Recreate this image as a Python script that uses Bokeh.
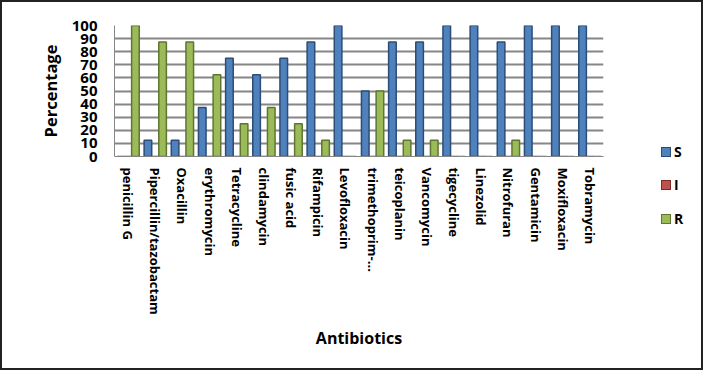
from bokeh.plotting import figure
from bokeh.layouts import row
from bokeh.models import ColumnDataSource, FactorRange, Range1d, FixedTicker, Div
from bokeh.transform import dodge
from bokeh.embed import file_html
from bokeh.resources import INLINE

antibiotics = ["penicillin G", "Pipercillin/tazobactam", "Oxacillin", "erythromycin",
               "Tetracycline", "clindamycin", "fusic acid", "Rifampicin", "Levofloxacin",
               "trimethoprim-...", "teicoplanin", "Vancomycin", "tigecycline", "Linezolid",
               "Nitrofuran", "Gentamicin", "Moxifloxacin", "Tobramycin"]
S = [0, 12.5, 12.5, 37.5, 75, 62.5, 75, 87.5, 100, 50, 87.5, 87.5, 100, 100, 87.5, 100, 100, 100]
I = [0] * 18
R = [100, 87.5, 87.5, 62.5, 25, 37.5, 25, 12.5, 0, 50, 12.5, 12.5, 0, 0, 12.5, 0, 0, 0]
y_ticks = [0, 10, 20, 30, 40, 50, 60, 70, 80, 90, 100]
series_names = ["S", "I", "R"]

src = ColumnDataSource(dict(cat=antibiotics, S=S, I=I, R=R))

FONT = "Open Sans"
W_MAIN = 611
W_LEG = 699 - W_MAIN
H = 366

p = figure(width=W_MAIN, height=H, x_range=FactorRange(factors=antibiotics),
           y_range=Range1d(0, 100), output_backend="svg", toolbar_location=None,
           min_border_left=112, min_border_right=10, min_border_top=23, min_border_bottom=212)

p.outline_line_color = None
p.xgrid.grid_line_color = None
p.ygrid.grid_line_color = "#868686"
p.ygrid.grid_line_width = 2
p.yaxis.ticker = FixedTicker(ticks=y_ticks)

styles = {"S": ("#4F81BD", "#2C4D75", -0.27), "I": ("#C0504D", "#772C2A", 0.0), "R": ("#9BBB59", "#5F7530", 0.27)}
for name in series_names:
    fill, line, off = styles[name]
    p.vbar(x=dodge("cat", off, range=p.x_range), top=name, bottom=0, width=0.28,
           source=src, fill_color=fill, line_color=line, line_width=1.5)

for ax in (p.xaxis, p.yaxis):
    ax.axis_line_color = "#868686"
    ax.major_tick_line_color = None
    ax.minor_tick_line_color = None
    ax.major_tick_out = 0
    ax.major_tick_in = 0
    ax.major_label_text_font = FONT
    ax.major_label_text_font_style = "bold"
    ax.major_label_text_color = "black"
    ax.axis_label_text_font = FONT
    ax.axis_label_text_font_style = "bold"
    ax.axis_label_text_color = "black"

p.xaxis.major_label_orientation = "vertical"
p.xaxis.major_label_text_font_size = "13px"
p.xaxis.major_label_standoff = 11
p.xaxis.axis_label = "Antibiotics"
p.xaxis.axis_label_text_font_size = "16px"
p.xaxis.axis_label_standoff = 9

p.yaxis.major_label_text_font_size = "15px"
p.yaxis.major_label_standoff = 17
p.yaxis.axis_label = "Percentage"
p.yaxis.axis_label_text_font_size = "16.5px"
p.yaxis.axis_label_standoff = 7

# legend as an HTML block beside the plot
rows_html = "".join(
    f'<div style="height:33.5px;display:flex;align-items:center;">'
    f'<span style="display:inline-block;width:10px;height:10px;background:{styles[n][0]};'
    f'border:1px solid {styles[n][1]};margin-right:3px;"></span>{n}</div>'
    for n in series_names)
legend_div = Div(text=f'<div style="padding-top:133px;padding-left:48px;font-family:\'{FONT}\';'
                      f'font-weight:bold;font-size:14px;color:black;line-height:1;">{rows_html}</div>',
                 width=W_LEG, height=H, margin=0)

layout = row(p, legend_div, styles={"border": "2px solid #222"})

open("out.html", "w").write(file_html(layout, INLINE))
